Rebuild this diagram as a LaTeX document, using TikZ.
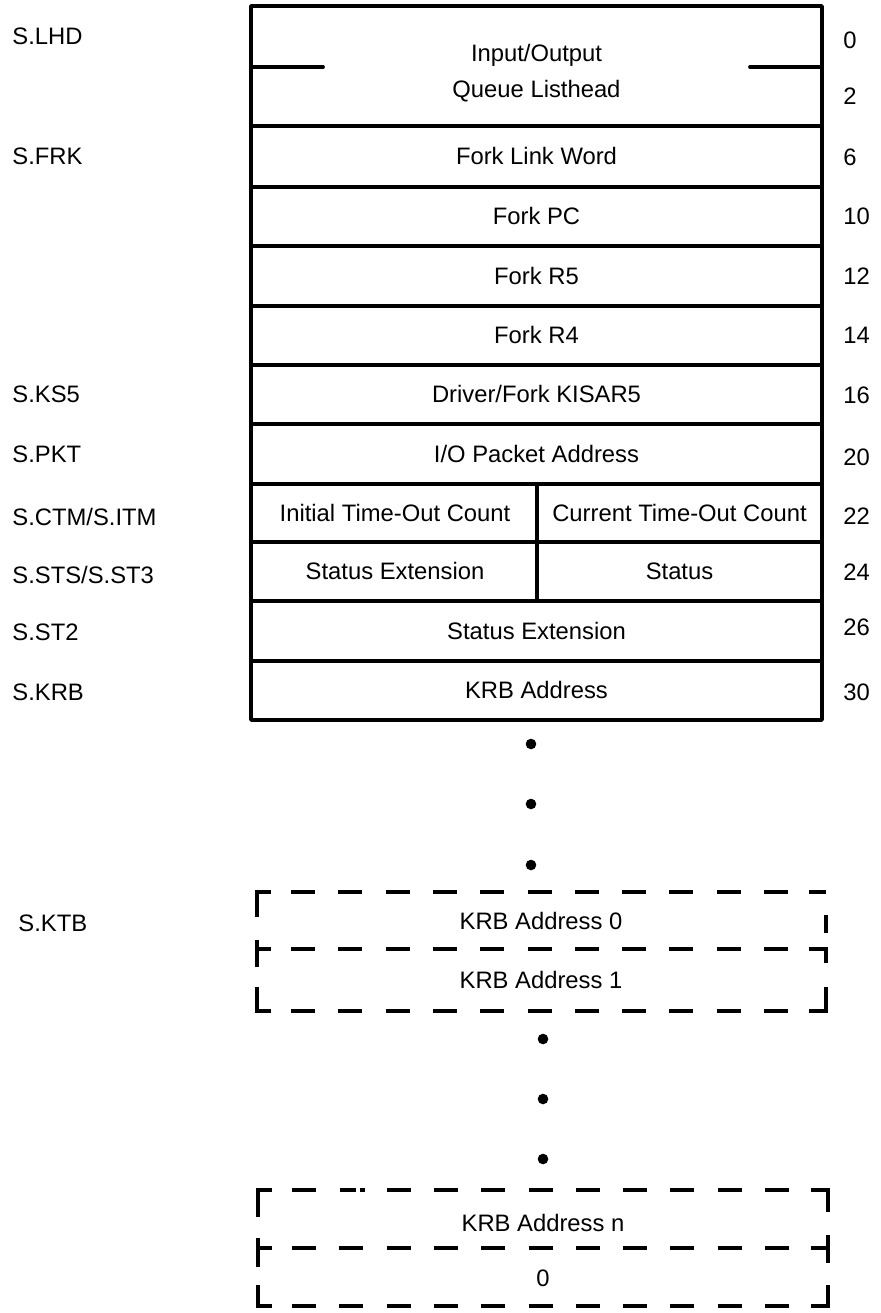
\documentclass[tikz,border=0pt]{standalone}
\usepackage{fontspec}
\setmainfont{Liberation Sans}
\newcommand\lab{\fontsize{11.9pt}{13.5pt}\selectfont}
% one run of dashes between the solid end pieces of a dashed row line
\newcommand\dashrun[2]{% #1 = left edge x, #2 = y
  \foreach \k in {0,...,10}
    \draw[dashseg] ({#1+34+47.3*\k},#2) -- ++(24,0);
}
\begin{document}
\begin{tikzpicture}[x=0.5pt,y=-0.5pt,
  frame/.style={line width=1.9pt, line join=round, line cap=round},
  dashseg/.style={line width=1.8pt},
  corner/.style={line width=1.8pt, line join=miter},
  txt/.style={inner sep=0pt, text height=8.4pt, text depth=0pt, font=\lab},
  tag/.style={txt, anchor=west},
  dot/.style={circle, fill=black, inner sep=0pt, minimum size=5.3pt}]

\useasboundingbox[fill=white] (0,0) rectangle (880,1313);

% ---- fixed part of the table ----
\draw[frame] (251,6) rectangle (822,720);
\foreach \y in {126,187,246,306,365,424,484,542,601,661}
  \draw[frame] (251,\y) -- (822,\y);
\draw[frame] (251,67) -- (323,67);
\draw[frame] (750,67) -- (822,67);
\draw[frame] (537,484) -- (537,601);

\node[txt] (lhA)  at (536.5,53)   {Input/Output};
\node[txt] (lhB)  at (536.5,89)   {Queue Listhead};
\node[txt] (frk)  at (536.5,156.5){Fork Link Word};
\node[txt] (fpc)  at (536.5,216.5){Fork PC};
\node[txt] (fr5)  at (536.5,276)  {Fork R5};
\node[txt] (fr4)  at (536.5,335.5){Fork R4};
\node[txt] (ks5)  at (536.5,394.5){Driver/Fork KISAR5};
\node[txt] (pkt)  at (536.5,454)  {I/O Packet Address};
\node[txt] (itm)  at (395,513)    {Initial Time-Out Count};
\node[txt] (ctm)  at (679.5,513)  {Current Time-Out Count};
\node[txt] (sts)  at (395,571.5)  {Status Extension};
\node[txt] (st3)  at (679.5,571.5){Status};
\node[txt] (st2)  at (536.5,631)  {Status Extension};
\node[txt] (krb)  at (536.5,690.5){KRB Address};

% symbolic offsets on the left
\node[tag] (sLHD) at (12,36)  {S.LHD};
\node[tag] (sFRK) at (12,156) {S.FRK};
\node[tag] (sKS5) at (12,394) {S.KS5};
\node[tag] (sPKT) at (12,454) {S.PKT};
\node[tag] (sCTM) at (12,517) {S.CTM/S.ITM};
\node[tag] (sSTS) at (12,575) {S.STS/S.ST3};
\node[tag] (sST2) at (12,632) {S.ST2};
\node[tag] (sKRB) at (12,692) {S.KRB};
\node[tag] (sKTB) at (18,923) {S.KTB};

% octal offsets on the right
\node[tag] (o0)  at (843,40)  {0};
\node[tag] (o2)  at (843,96)  {2};
\node[tag] (o6)  at (843,157) {6};
\node[tag] (o10) at (843,216) {10};
\node[tag] (o12) at (843,276) {12};
\node[tag] (o14) at (843,335) {14};
\node[tag] (o16) at (843,395) {16};
\node[tag] (o20) at (843,457) {20};
\node[tag] (o22) at (843,516) {22};
\node[tag] (o24) at (843,572) {24};
\node[tag] (o26) at (843,627) {26};
\node[tag] (o30) at (843,692) {30};

% ellipsis after the fixed part
\node[dot] (d1) at (531,744) {};
\node[dot] (d2) at (531,804) {};
\node[dot] (d3) at (531,865) {};

% ---- KRB table, first entries ----
\dashrun{257}{892}
\dashrun{257}{949}
\dashrun{257}{1011}
\draw[corner] (257,917) -- (257,892) -- (271,892);
\draw[corner] (809,892) -- (826,892);
\draw[corner] (826,915) -- (826,933);
\draw[corner] (257,940) -- (257,967);
\draw[corner] (257,949) -- (271,949);
\draw[corner] (809,949) -- (826,949) -- (826,963);
\draw[corner] (257,987) -- (257,1011) -- (271,1011);
\draw[corner] (809,1011) -- (826,1011) -- (826,987);
\node[txt] (k0) at (541,921) {KRB Address 0};
\node[txt] (k1) at (541,980) {KRB Address 1};

\node[dot] (e1) at (543,1039) {};
\node[dot] (e2) at (543,1099) {};
\node[dot] (e3) at (543,1159) {};

% ---- KRB table, last entry and terminator ----
\foreach \k in {0,2,3,...,10}
  \draw[dashseg] ({258+34+47.3*\k},1190) -- ++(24,0);
\draw[dashseg] (340,1190) -- (356,1190);
\draw[dashseg] (360,1190) -- (365,1190);
\dashrun{258}{1248}
\dashrun{258}{1306}
\draw[corner] (258,1217) -- (258,1190) -- (272,1190);
\draw[corner] (811,1190) -- (828,1190) -- (828,1212);
\draw[corner] (258,1238) -- (258,1267);
\draw[corner] (258,1248) -- (272,1248);
\draw[corner] (811,1248) -- (828,1248);
\draw[corner] (828,1235) -- (828,1263);
\draw[corner] (258,1285) -- (258,1306) -- (272,1306);
\draw[corner] (811,1306) -- (828,1306) -- (828,1285);
\node[txt] (kn) at (543,1223) {KRB Address n};
\node[txt] (kz) at (543,1278) {0};
\end{tikzpicture}
\end{document}
